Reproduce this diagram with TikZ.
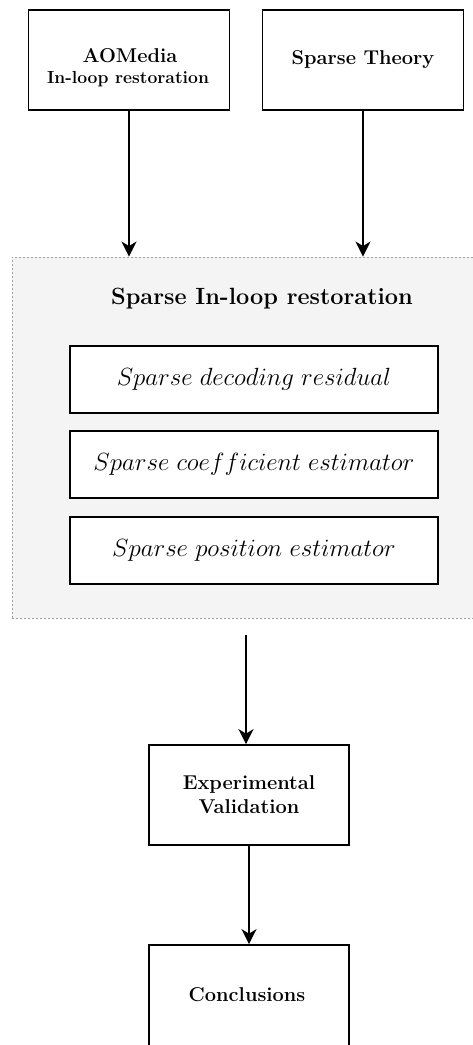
\documentclass[tikz,border=0pt]{standalone}
\usetikzlibrary{arrows.meta}
\definecolor{panelfill}{HTML}{F4F4F4}
\definecolor{panelline}{HTML}{A0A0A0}
\begin{document}
\begin{tikzpicture}[x=1pt,y=-1pt,
  box/.style={draw=black, line width=1.7pt, fill=white, inner sep=0pt,
              minimum width=201pt, minimum height=100pt, align=center,
              font=\fontsize{20}{24}\selectfont\bfseries},
  stagebox/.style={draw=black, line width=1.7pt, fill=white, inner sep=0pt,
              minimum width=368pt, minimum height=67pt,
              font=\fontsize{24}{28}\selectfont},
  panel/.style={draw=panelline, dash pattern=on 2pt off 2pt, line width=0.9pt,
              fill=panelfill, inner sep=0pt, minimum width=470pt, minimum height=361pt},
  arr/.style={draw=black, line width=1.8pt,
              -{Stealth[length=15pt,width=15pt,inset=4.5pt]}}
]
\useasboundingbox (0,0) rectangle (472,1045);

% inputs
\node[box] (aom) at (129,60) {};
\node[font=\fontsize{20}{24}\selectfont\bfseries] (aomtitle) at (130,56) {AOMedia};
\node[font=\fontsize{17.5}{20}\selectfont\bfseries] (aomsub) at (128,79) {In-loop restoration};
\node[box] (theory) at (363,60) {Sparse Theory};

% restoration panel
\node[panel] (panel) at (247,437.5) {};
\node[font=\fontsize{23.5}{27}\selectfont\bfseries] (ptitle) at (262,299) {Sparse In-loop restoration};
\node[stagebox] (s1) at (254,379.5) {$Sparse\ decoding\ residual$};
\node[stagebox] (s2) at (254,464.5) {$Sparse\ coefficient\ estimator$};
\node[stagebox] (s3) at (254,550.5) {$Sparse\ position\ estimator$};

% validation and conclusions
\node[box, minimum width=200pt] (exp) at (249,795) {Experimental\\ Validation};
\node[box, minimum width=200pt, minimum height=104pt] (conc) at (249,997) {};
\node[font=\fontsize{20}{24}\selectfont\bfseries] (conctext) at (247,995) {Conclusions};

% connectors
\draw[arr] (aom.south) -- (aom.south |- panel.north);
\draw[arr] (theory.south) -- (theory.south |- panel.north);
\coordinate (pout) at (246,635);
\draw[arr] (pout) -- (pout |- exp.north);
\draw[arr] (exp.south) -- (conc.north);
\end{tikzpicture}
\end{document}
